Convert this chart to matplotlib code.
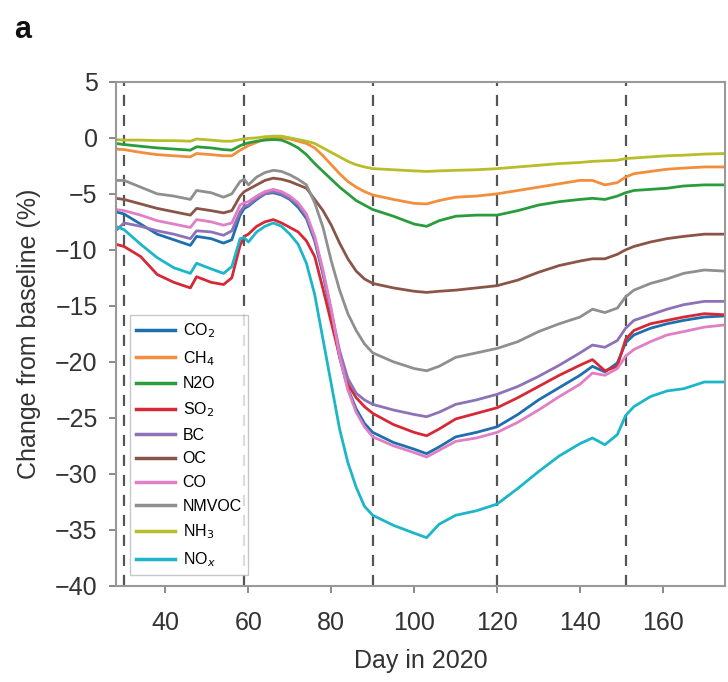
import matplotlib
matplotlib.use("Agg")
import matplotlib.pyplot as plt

plt.rcParams['font.family'] = ['Liberation Sans Narrow', 'Liberation Sans', 'DejaVu Sans']

## data
days = [28, 30, 34, 38, 42, 46, 47.5, 51, 54, 56, 58, 59, 60, 62, 64, 66, 68, 70, 72, 74,
        76, 78, 80, 82, 84, 86, 88, 90, 95, 100, 103, 106, 110, 115, 120, 125, 130, 135,
        140, 143, 146, 149, 151, 153, 157, 161, 165, 170, 175]

co2 = [-6.6, -6.8, -7.7, -8.6, -9.1, -9.6, -8.8, -9.0, -9.4, -9.1, -6.9, -6.3, -6.1, -5.5, -5.0,
       -4.9, -5.1, -5.5, -6.2, -7.2, -9.2, -12.2, -15.6, -19.6, -22.4, -24.2, -25.5, -26.3,
       -27.2, -27.8, -28.2, -27.6, -26.7, -26.3, -25.8, -24.7, -23.4, -22.3, -21.2, -20.4,
       -20.9, -20.1, -18.3, -17.6, -17.0, -16.6, -16.3, -16.0, -15.9]
ch4 = [-1.0, -1.05, -1.3, -1.5, -1.6, -1.7, -1.4, -1.5, -1.6, -1.6, -1.1, -0.9, -0.7, -0.4, -0.1,
       0.0, 0.0, -0.1, -0.3, -0.5, -0.9, -1.6, -2.4, -3.2, -3.9, -4.4, -4.8, -5.1, -5.5, -5.85,
       -5.9, -5.6, -5.3, -5.2, -5.0, -4.7, -4.4, -4.1, -3.8, -3.8, -4.2, -4.0, -3.5, -3.2, -3.0,
       -2.8, -2.7, -2.6, -2.6]
n2o = [-0.5, -0.6, -0.75, -0.9, -1.0, -1.1, -0.8, -0.9, -1.05, -1.1, -0.7, -0.55, -0.45, -0.3,
       -0.2, -0.15, -0.2, -0.5, -0.9, -1.5, -2.3, -3.0, -3.7, -4.4, -5.0, -5.6, -6.0, -6.4, -7.0,
       -7.7, -7.9, -7.4, -7.0, -6.9, -6.9, -6.5, -6.0, -5.7, -5.5, -5.4, -5.5, -5.2, -4.9, -4.7,
       -4.6, -4.5, -4.3, -4.2, -4.2]
so2 = [-9.5, -9.7, -10.6, -12.2, -12.9, -13.4, -12.4, -12.9, -13.1, -12.5, -9.6, -8.8, -8.6,
       -7.9, -7.5, -7.3, -7.6, -8.0, -8.4, -9.2, -10.6, -13.5, -16.5, -19.5, -22.0, -23.2, -24.0,
       -24.6, -25.6, -26.3, -26.6, -26.0, -25.1, -24.6, -24.1, -23.2, -22.2, -21.2, -20.3, -19.8,
       -20.8, -20.4, -18.0, -17.2, -16.6, -16.3, -16.0, -15.7, -15.8]
bc = [-8.3, -7.6, -7.9, -8.3, -8.6, -9.0, -8.3, -8.4, -8.7, -8.3, -6.6, -6.1, -6.0, -5.4, -5.0,
      -4.8, -5.0, -5.4, -6.0, -7.0, -9.0, -12.0, -15.5, -19.0, -21.5, -22.8, -23.4, -23.8, -24.3,
      -24.7, -24.9, -24.5, -23.8, -23.4, -22.9, -22.2, -21.3, -20.3, -19.2, -18.5, -18.7, -18.1,
      -17.0, -16.3, -15.8, -15.3, -14.9, -14.6, -14.6]
oc = [-5.4, -5.5, -5.9, -6.3, -6.6, -6.9, -6.3, -6.5, -6.7, -6.5, -5.2, -4.8, -4.6, -4.2, -3.8,
      -3.6, -3.7, -3.9, -4.2, -4.5, -5.5, -6.5, -7.8, -9.4, -10.8, -11.9, -12.6, -13.0, -13.4,
      -13.7, -13.8, -13.7, -13.6, -13.4, -13.2, -12.7, -12.0, -11.4, -11.0, -10.8, -10.8, -10.4,
      -10.0, -9.7, -9.3, -9.0, -8.8, -8.6, -8.6]
co = [-6.4, -6.5, -6.9, -7.4, -7.7, -8.0, -7.3, -7.5, -7.8, -7.6, -6.0, -5.8, -5.7, -5.2, -4.8,
      -4.6, -4.8, -5.2, -5.8, -6.8, -8.8, -11.8, -15.3, -19.5, -22.5, -24.5, -25.8, -26.7, -27.5,
      -28.1, -28.5, -27.9, -27.1, -26.8, -26.3, -25.4, -24.3, -23.1, -22.0, -21.0, -21.2, -20.6,
      -19.5, -18.9, -18.2, -17.6, -17.3, -16.9, -16.7]
nmvoc = [-3.8, -3.8, -4.4, -5.0, -5.2, -5.5, -4.7, -4.9, -5.3, -5.0, -3.9, -3.7, -4.2, -3.5,
         -3.1, -2.9, -3.0, -3.3, -3.7, -4.2, -5.8, -8.0, -11.0, -13.6, -15.7, -17.2, -18.4, -19.2,
         -20.0, -20.6, -20.8, -20.4, -19.6, -19.2, -18.8, -18.2, -17.3, -16.6, -16.0, -15.3,
         -15.6, -15.2, -14.2, -13.6, -13.0, -12.6, -12.1, -11.8, -11.9]
nh3 = [-0.15, -0.2, -0.2, -0.25, -0.25, -0.3, -0.1, -0.2, -0.3, -0.3, -0.15, -0.1, -0.05, 0.0,
       0.1, 0.15, 0.15, 0.0, -0.15, -0.3, -0.5, -0.9, -1.3, -1.7, -2.1, -2.4, -2.6, -2.75, -2.85,
       -2.95, -3.0, -2.95, -2.9, -2.85, -2.75, -2.6, -2.45, -2.3, -2.2, -2.1, -2.05, -2.0, -1.85,
       -1.8, -1.7, -1.6, -1.55, -1.45, -1.4]
nox = [-7.9, -8.2, -9.5, -10.7, -11.6, -12.1, -11.2, -11.7, -12.1, -11.5, -9.0, -8.9, -9.3, -8.4,
       -7.9, -7.6, -7.9, -8.6, -9.5, -11.2, -14.0, -18.0, -22.0, -26.0, -29.0, -31.2, -32.9,
       -33.7, -34.6, -35.3, -35.7, -34.5, -33.7, -33.3, -32.7, -31.3, -29.8, -28.4, -27.3, -26.8,
       -27.4, -26.5, -24.8, -24.0, -23.1, -22.6, -22.4, -21.8, -21.8]

month_ends = [30, 59, 90, 120, 151]

series = [
    ("CO$_2$", co2, "#1f6fae"),
    ("CH$_4$", ch4, "#f28e3c"),
    ("N2O", n2o, "#2a9c3c"),
    ("SO$_2$", so2, "#d62835"),
    ("BC", bc, "#8e72b8"),
    ("OC", oc, "#8a5548"),
    ("CO", co, "#e07fc6"),
    ("NMVOC", nmvoc, "#8f8f8f"),
    ("NH$_3$", nh3, "#b8bd2a"),
    ("NO$_x$", nox, "#1bb6c8"),
]

fig = plt.figure(figsize=(7.28, 6.82), dpi=100)
ax = fig.add_axes([0.159, 0.141, 0.837, 0.739])

for d in month_ends:
    ax.axvline(d, color="#555555", lw=1.6, ls=(0, (5, 4)), zorder=1)

for name, vals, col in series:
    ax.plot(days, vals, color=col, lw=2.0, label=name, zorder=2)

ax.set_xlim(28, 175)
ax.set_ylim(-40, 5)
ax.set_xticks([40, 60, 80, 100, 120, 140, 160])
ax.set_yticks(range(-40, 6, 5))
ax.set_yticklabels([str(v).replace("-", "\u2212") for v in range(-40, 6, 5)])
ax.tick_params(direction="out", length=5, width=1.2, color="#777777",
               labelsize=18, labelcolor="#333333", pad=8)
ax.tick_params(axis="x", pad=13)
for s in ["top", "bottom", "left", "right"]:
    ax.spines[s].set_color("#999999")
    ax.spines[s].set_linewidth(1.5)

ax.set_xlabel("Day in 2020", fontsize=18, color="#333333", labelpad=10)
ax.set_ylabel("Change from baseline (%)", fontsize=18, color="#333333", labelpad=10)

leg = ax.legend(loc="lower left", bbox_to_anchor=(0.01, 0.005), fontsize=11.5,
                handlelength=2.4, labelspacing=0.55, borderpad=0.4,
                handletextpad=0.5, fancybox=False, edgecolor="#bbbbbb")
for h in leg.get_lines():
    h.set_linewidth(2.5)

fig.text(0.02, 0.945, "a", fontsize=22, fontweight="bold", color="#111111")

fig.savefig("out.png", dpi=100)
